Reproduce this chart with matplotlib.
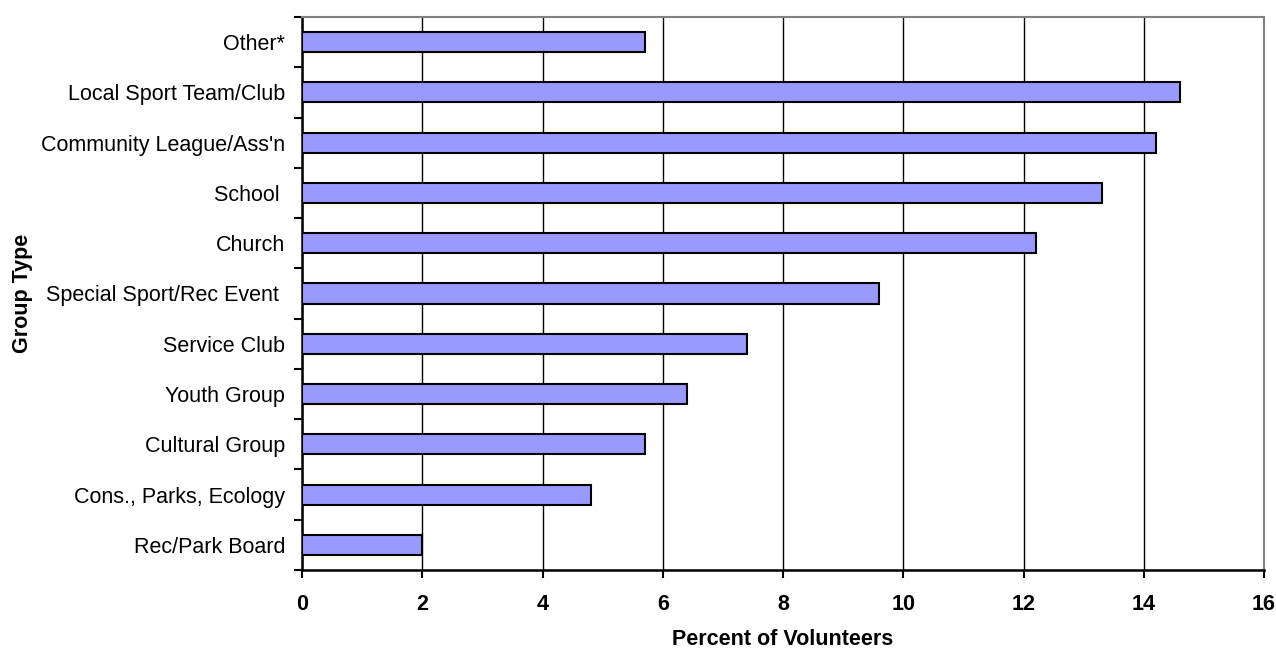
import matplotlib.pyplot as plt
import numpy as np

plt.rcParams['font.family'] = ['Liberation Sans', 'DejaVu Sans']

# Group types from bottom to top
groups = ["Rec/Park Board", "Cons., Parks, Ecology", "Cultural Group", "Youth Group",
          "Service Club", "Special Sport/Rec Event ", "Church", "School ",
          "Community League/Ass'n", "Local Sport Team/Club", "Other*"]
percent = [2.0, 4.8, 5.7, 6.4, 7.4, 9.6, 12.2, 13.3, 14.2, 14.6, 5.7]
xticks = [0, 2, 4, 6, 8, 10, 12, 14, 16]

fs = 15.5

fig = plt.figure(figsize=(12.76, 6.48), dpi=100)
ax = fig.add_axes([302 / 1276, 1 - 570 / 648, (1264 - 302) / 1276, (570 - 17) / 648])

y = np.arange(len(groups))
ax.barh(y, percent, height=0.4, color='#9999ff', edgecolor='black', linewidth=1.5, zorder=3)

ax.set_xlim(0, 16)
ax.set_ylim(-0.5, len(groups) - 0.5)
ax.set_xticks(xticks)
ax.set_xticklabels([str(v) for v in xticks], fontweight='bold', fontsize=fs)
ax.set_yticks(y)
ax.set_yticklabels(groups, fontsize=fs)
ax.tick_params(axis='y', length=0, pad=12)
ax.set_yticks(np.arange(len(groups) + 1) - 0.5, minor=True)
ax.tick_params(axis='y', which='minor', length=6, width=1.5, direction='out')
ax.tick_params(axis='x', length=6, width=1.5, direction='out', pad=11)

ax.grid(axis='x', color='black', linewidth=1, zorder=0)
ax.set_axisbelow(True)

for side in ['left', 'bottom']:
    ax.spines[side].set_linewidth(1.8)
    ax.spines[side].set_color('black')
for side in ['top', 'right']:
    ax.spines[side].set_linewidth(1.5)
    ax.spines[side].set_color('#808080')

ax.set_xlabel('Percent of Volunteers', fontweight='bold', fontsize=fs)
ax.xaxis.set_label_coords(0.5, -0.106)
ax.set_ylabel('Group Type', fontweight='bold', fontsize=fs)
ax.yaxis.set_label_coords(-0.28, 0.5)

fig.savefig('out.png', dpi=100)
